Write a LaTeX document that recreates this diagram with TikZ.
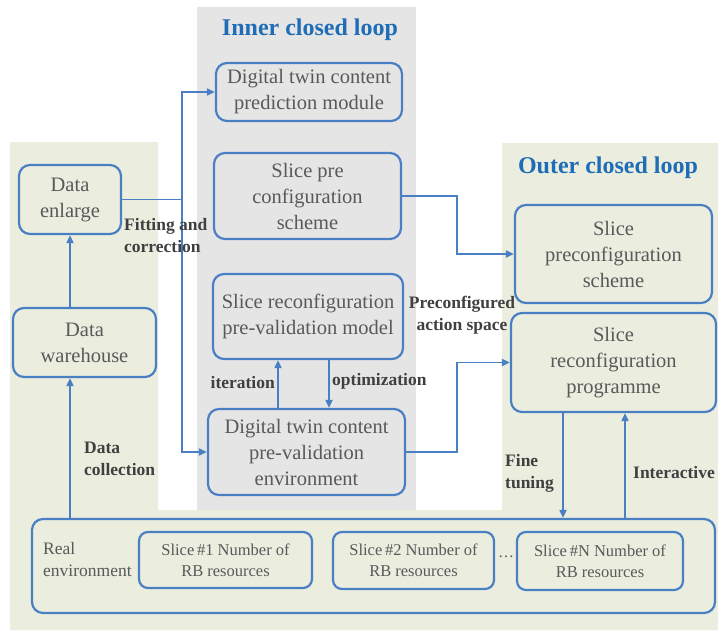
\documentclass[tikz,border=0pt]{standalone}
\usepackage{fontspec}
\setmainfont{Liberation Serif}
\usetikzlibrary{arrows.meta,calc}

\definecolor{panelgreen}{HTML}{EBEEDF}
\definecolor{panelgray}{HTML}{E5E5E5}
\definecolor{edgeblue}{HTML}{4A7FC4}
\definecolor{titleblue}{HTML}{1F6DB7}
\definecolor{boxtext}{HTML}{595959}
\definecolor{labeltext}{HTML}{404040}

\tikzset{
  box/.style={draw=edgeblue, line width=2.2pt, rounded corners=11pt,
    align=center, inner sep=2pt, text=boxtext,
    font=\fontsize{20.5}{26}\selectfont},
  smallbox/.style={box, rounded corners=9pt,
    font=\fontsize{16.5}{21}\selectfont},
  flow/.style={draw=edgeblue, line width=1.8pt,
    -{Triangle[length=8pt,width=7pt]}},
  wire/.style={draw=edgeblue, line width=1.8pt},
  lbl/.style={font=\bfseries\fontsize{17.5}{22}\selectfont,
    text=labeltext, inner sep=0pt},
  title/.style={font=\bfseries\fontsize{24}{28}\selectfont,
    text=titleblue, inner sep=0pt}
}

\begin{document}
\begin{tikzpicture}[x=1pt,y=-1pt]
\useasboundingbox (0,0) rectangle (718,630);

% background panels
\fill[panelgreen] (10,142) -- (158,142) -- (158,510) -- (502,510)
  -- (502,143) -- (718,143) -- (718,630) -- (10,630) -- cycle;
\fill[panelgray] (197,7) rectangle (416,510);

% panel titles
\node[title] (tin) at (310,30) {Inner closed loop};
\node[title] (tout) at (608,168) {Outer closed loop};

% left column
\node[box, minimum width=102pt, minimum height=69pt] (enl) at (70,199.5)
  {Data\\enlarge};
\node[box, minimum width=143pt, minimum height=69pt] (ware) at (84.5,342.5)
  {Data\\warehouse};

% inner loop
\node[box, minimum width=186pt, minimum height=58pt] (pred) at (309,92)
  {Digital twin content\\prediction module};
\node[box, minimum width=187pt, minimum height=86pt] (spre) at (307.5,196)
  {Slice pre\\configuration\\scheme};
\node[box, minimum width=190pt, minimum height=85pt] (model) at (308,316.5)
  {Slice reconfiguration\\pre-validation model};
\node[box, minimum width=197pt, minimum height=86pt] (env) at (306.5,452)
  {Digital twin content\\pre-validation\\environment};

% outer loop
\node[box, minimum width=197pt, minimum height=98pt] (opre) at (613.5,254)
  {Slice\\preconfiguration\\scheme};
\node[box, minimum width=205pt, minimum height=99pt] (prog) at (613.5,362.5)
  {Slice\\reconfiguration\\programme};

% real environment
\node[box, minimum width=683pt, minimum height=94pt] (real) at (373.5,566) {};
\node[anchor=west, align=left, inner sep=0pt, text=boxtext,
  font=\fontsize{17.5}{22}\selectfont] (realtxt) at (43,560)
  {Real\\environment};
\node[smallbox, minimum width=173pt, minimum height=56pt] (s1) at (225.5,560)
  {Slice\,\#1 Number of\\RB resources};
\node[smallbox, minimum width=161pt, minimum height=57pt] (s2) at (413.5,560.5)
  {Slice\,\#2 Number of\\RB resources};
\node[smallbox, minimum width=166pt, minimum height=58pt] (sN) at (600,561)
  {Slice\,\#N Number of\\RB resources};
\node[text=boxtext, inner sep=0pt, font=\fontsize{16}{20}\selectfont]
  (dots) at (506,557) {\dots};

% helper coordinates for routing
\coordinate (jn) at (182,199.5);
\coordinate (bx) at (457,0);
\coordinate (it) at (278,0);
\coordinate (op) at (329,0);
\coordinate (ft) at (563,0);
\coordinate (ia) at (625,0);

% data path on the left
\draw[flow] (real.north -| enl) -- (ware.south -| enl);
\draw[flow] (ware.north -| enl) -- (enl.south);
\draw[wire] (enl.east) -- (jn);
\draw[flow] (jn) |- (pred.west);
\draw[flow] (jn) |- (env.west);

% inner loop iteration
\draw[flow] (env.north -| it) -- (model.south -| it);
\draw[flow] (model.south -| op) -- (env.north -| op);

% links to the outer loop
\draw[flow] (spre.east) -| (bx |- opre.west) -- (opre.west);
\draw[flow] (env.east) -| (bx |- prog.west) -- (prog.west);

% links to the real environment
\draw[flow] (prog.south -| ft) -- (real.north -| ft);
\draw[flow] (real.north -| ia) -- (prog.south -| ia);

% connector labels
\node[lbl, anchor=west, align=left] (lfit) at (124,236)
  {Fitting and\\correction};
\node[lbl, anchor=west, align=left] (lcol) at (84,459)
  {Data\\collection};
\node[lbl, anchor=east] (lit) at (275,383) {iteration};
\node[lbl, anchor=west] (lopt) at (332,381) {optimization};
\node[lbl, align=center] (lpre) at (462,315)
  {Preconfigured\\action space};
\node[lbl, anchor=west, align=left] (lft) at (505,473) {Fine\\tuning};
\node[lbl, anchor=west] (lia) at (633,473) {Interactive};
\end{tikzpicture}
\end{document}
